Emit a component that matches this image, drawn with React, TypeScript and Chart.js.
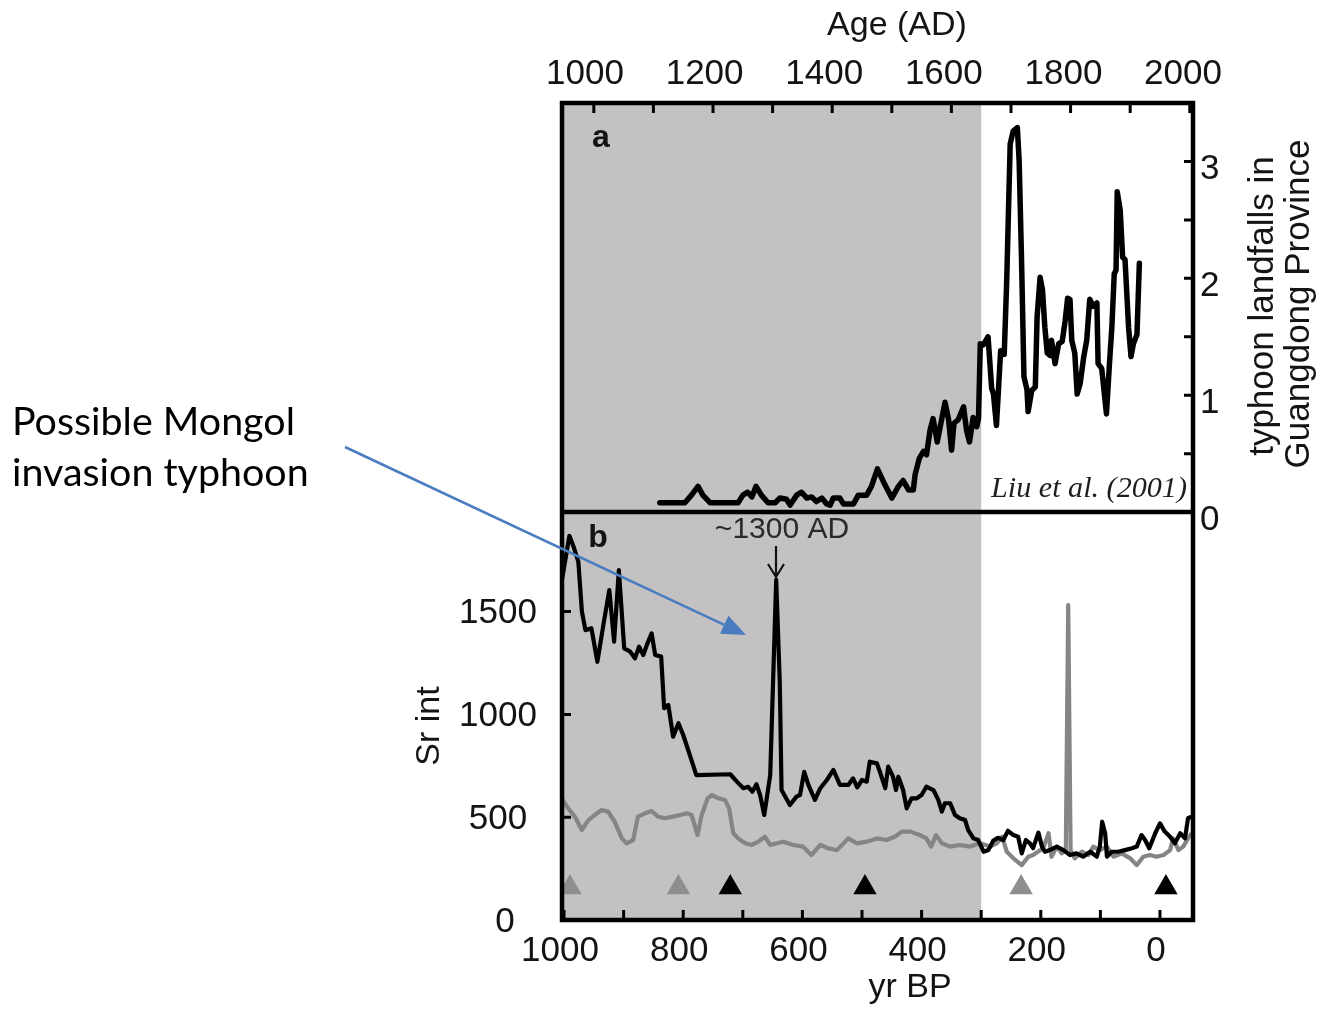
import React, { useEffect, useRef } from 'react';
import { Chart, registerables } from 'chart.js';

Chart.register(...registerables);

// ---------- Panel a: typhoon landfalls in Guangdong (Liu et al. 2001), x in AD ----------
const TY_AD = [1125, 1167, 1178, 1189, 1197, 1209, 1256, 1264, 1272, 1279, 1286, 1295, 1306, 1318, 1326, 1337, 1343, 1354, 1362, 1371, 1379, 1387, 1396, 1404, 1410, 1415, 1426, 1432, 1449, 1457, 1471, 1479, 1489, 1499, 1513, 1524, 1532, 1541, 1549, 1552, 1559, 1566, 1571, 1577, 1582, 1589, 1594, 1602, 1608, 1613, 1617, 1624, 1633, 1638, 1643, 1649, 1655, 1658, 1661, 1666, 1674, 1680, 1683, 1688, 1695, 1701, 1705, 1711, 1716, 1723, 1726, 1730, 1734, 1739, 1741, 1747, 1753, 1756, 1761, 1765, 1769, 1773, 1778, 1780, 1786, 1792, 1798, 1803, 1807, 1811, 1814, 1819, 1823, 1828, 1834, 1839, 1844, 1850, 1856, 1858, 1864, 1872, 1877, 1881, 1885, 1888, 1890, 1895, 1899, 1903, 1909, 1913, 1917, 1923, 1927];
const TY_VAL = [0.08, 0.08, 0.145, 0.22, 0.145, 0.08, 0.08, 0.145, 0.17, 0.13, 0.22, 0.145, 0.08, 0.08, 0.12, 0.11, 0.06, 0.145, 0.17, 0.12, 0.13, 0.09, 0.12, 0.07, 0.06, 0.12, 0.12, 0.07, 0.07, 0.145, 0.145, 0.22, 0.37, 0.26, 0.12, 0.22, 0.27, 0.19, 0.19, 0.32, 0.46, 0.52, 0.49, 0.70, 0.80, 0.60, 0.73, 0.94, 0.79, 0.53, 0.76, 0.79, 0.90, 0.70, 0.60, 0.81, 0.73, 0.80, 1.44, 1.43, 1.50, 1.06, 1.01, 0.74, 1.38, 1.35, 1.95, 3.15, 3.26, 3.29, 3.0, 2.15, 1.16, 1.05, 0.86, 1.04, 1.07, 1.67, 2.01, 1.90, 1.58, 1.36, 1.34, 1.47, 1.27, 1.44, 1.46, 1.64, 1.83, 1.82, 1.47, 1.36, 1.01, 1.10, 1.33, 1.47, 1.82, 1.76, 1.79, 1.27, 1.23, 0.84, 1.27, 1.58, 2.04, 2.07, 2.74, 2.58, 2.18, 2.16, 1.58, 1.33, 1.44, 1.52, 2.13];

// ---------- Panel b: Sr intensity, x in yr BP ----------
const SR_BLACK_BP = [1003, 991, 984, 976, 970, 964, 954, 944, 934, 924, 916, 908, 899, 889, 881, 874, 867, 861, 853, 847, 837, 832, 825, 817, 808, 800, 789, 778, 721, 710, 699, 691, 684, 677, 671, 664, 654, 644, 638, 635, 621, 610, 604, 597, 590, 579, 570, 559, 548, 537, 523, 515, 508, 500, 492, 487, 475, 470, 461, 456, 448, 443, 439, 431, 425, 417, 408, 400, 392, 380, 372, 366, 361, 352, 344, 336, 327, 322, 313, 305, 296, 288, 280, 272, 263, 255, 246, 238, 232, 225, 218, 213, 204, 198, 193, 185, 173, 162, 151, 140, 129, 117, 106, 101, 97, 92, 89, 81, 70, 59, 47, 39, 31, 25, 18, 8, 0, -8, -17, -25, -34, -42, -47, -53];
const SR_BLACK = [1662, 1869, 1816, 1743, 1500, 1410, 1419, 1256, 1435, 1605, 1354, 1702, 1321, 1305, 1273, 1329, 1289, 1338, 1394, 1289, 1281, 1030, 1046, 892, 957, 900, 803, 705, 709, 673, 641, 648, 624, 660, 608, 511, 705, 1654, 1159, 632, 559, 600, 608, 721, 657, 584, 641, 681, 730, 657, 657, 689, 645, 681, 673, 770, 762, 721, 641, 746, 697, 632, 697, 632, 543, 592, 592, 608, 648, 632, 584, 527, 568, 568, 511, 495, 486, 438, 397, 389, 332, 340, 385, 400, 389, 434, 413, 405, 324, 389, 373, 349, 425, 357, 332, 340, 357, 340, 316, 324, 308, 332, 308, 357, 478, 422, 308, 332, 332, 340, 349, 357, 413, 389, 349, 422, 470, 430, 405, 373, 422, 397, 495, 503];

const SR_GRAY_BP = [1004, 993, 982, 970, 959, 948, 937, 926, 915, 903, 895, 884, 876, 864, 853, 842, 831, 817, 805, 794, 786, 776, 769, 759, 752, 741, 730, 723, 716, 708, 696, 685, 674, 663, 654, 643, 632, 615, 599, 585, 570, 557, 542, 523, 509, 492, 475, 459, 445, 433, 419, 403, 392, 384, 376, 366, 352, 336, 319, 302, 285, 274, 265, 257, 246, 232, 221, 213, 196, 187, 182, 173, 165, 158, 154, 150, 143, 131, 120, 112, 101, 89, 78, 64, 50, 39, 28, 17, 6, -6, -17, -22, -31, -39, -47, -53];
const SR_GRAY = [592, 543, 503, 438, 486, 511, 535, 527, 478, 397, 373, 389, 503, 519, 530, 503, 495, 503, 511, 519, 511, 413, 511, 592, 608, 592, 584, 543, 422, 397, 373, 365, 381, 405, 365, 373, 381, 365, 357, 316, 365, 349, 340, 397, 373, 381, 397, 389, 405, 430, 430, 413, 397, 357, 413, 373, 357, 365, 357, 373, 357, 373, 405, 332, 300, 267, 308, 316, 349, 422, 308, 357, 324, 340, 1532, 340, 300, 332, 316, 357, 340, 357, 308, 324, 300, 267, 308, 316, 308, 316, 340, 397, 340, 357, 397, 422];

// dating markers (triangles)
const TRI_BP = [990, 808, 721, 495, 233, -10];
const TRI_KIND = ['gray', 'gray', 'black', 'black', 'gray', 'black'];
const TRI_LEVEL = 158;

// tick labels
const AD_TICKS = [1000, 1200, 1400, 1600, 1800, 2000];
const AD_MINOR = [1000, 1100, 1200, 1300, 1400, 1500, 1600, 1700, 1800, 1900, 2000];
const BP_TICKS = [1000, 800, 600, 400, 200, 0];
const BP_MINOR = [1000, 900, 800, 700, 600, 500, 400, 300, 200, 100, 0];
const SR_TICKS = [0, 500, 1000, 1500];
const TY_TICKS = [0, 1, 2, 3];
const TY_MINOR = [0.5, 1, 1.5, 2, 2.5, 3];
const SHADE_END_BP = 300; // shaded period ends at 300 yr BP (1650 AD)

// axis ranges
const BP_RANGE = [-55.4, 1003.4];
const AD_RANGE = [961.5, 2016.7];
const SR_RANGE = [0, 3974];
const TY_RANGE = [-3.49, 3.5];

const SANS = '"Liberation Sans", Arial, Helvetica, sans-serif';
const INK = '#141414';

function fitSize(ctx: CanvasRenderingContext2D, text: string, fontFn: (s: number) => string, target: number) {
  ctx.font = fontFn(100);
  const w = ctx.measureText(text).width;
  return (100 * target) / w;
}

const figPlugin = {
  id: 'figDecor',
  beforeDatasetsDraw(chart: any) {
    const { ctx, chartArea } = chart;
    const xs = chart.scales.xBP;
    const x1 = xs.getPixelForValue(SHADE_END_BP);
    ctx.save();
    ctx.fillStyle = '#c3c1c2';
    ctx.fillRect(chartArea.left, chartArea.top, x1 - chartArea.left, chartArea.bottom - chartArea.top);
    ctx.restore();
  },
  afterDraw(chart: any) {
    const { ctx, chartArea } = chart;
    const { left, right, top, bottom } = chartArea;
    const xBP = chart.scales.xBP;
    const xTop = chart.scales.xTop;
    const ySr = chart.scales.ySr;
    const yTy = chart.scales.yTy;
    const mid = yTy.getPixelForValue(0);

    ctx.save();
    // frame & divider
    ctx.strokeStyle = '#000';
    ctx.lineWidth = 4.5;
    ctx.strokeRect(left, top, right - left, bottom - top);
    ctx.beginPath();
    ctx.moveTo(left, mid);
    ctx.lineTo(right, mid);
    ctx.stroke();

    // inward ticks
    ctx.lineWidth = 3;
    ctx.beginPath();
    BP_MINOR.forEach((v) => {
      const x = xBP.getPixelForValue(v);
      ctx.moveTo(x, bottom);
      ctx.lineTo(x, bottom - 10);
    });
    AD_MINOR.forEach((v) => {
      const x = xBP.getPixelForValue(1950 - v);
      ctx.moveTo(x, top);
      ctx.lineTo(x, top + 10);
    });
    SR_TICKS.forEach((v) => {
      if (v === 0) return;
      const y = ySr.getPixelForValue(v);
      ctx.moveTo(left, y);
      ctx.lineTo(left + 9, y);
    });
    TY_MINOR.forEach((v) => {
      const y = yTy.getPixelForValue(v);
      ctx.moveTo(right, y);
      ctx.lineTo(right - 9, y);
    });
    ctx.stroke();

    // tick labels
    ctx.fillStyle = INK;
    ctx.font = `35px ${SANS}`;
    ctx.textBaseline = 'middle';
    ctx.textAlign = 'center';
    AD_TICKS.forEach((v) => ctx.fillText(String(v), xTop.getPixelForValue(v), 74));
    BP_TICKS.forEach((v) => ctx.fillText(String(v), xBP.getPixelForValue(v) - 4, 951));
    SR_TICKS.forEach((v) => ctx.fillText(String(v), v === 0 ? 505 : 498, ySr.getPixelForValue(v) + 2));
    ctx.textAlign = 'left';
    TY_TICKS.forEach((v) => ctx.fillText(String(v), 1200, yTy.getPixelForValue(v) + 8));

    // axis titles
    ctx.textAlign = 'center';
    ctx.font = `34px ${SANS}`;
    ctx.fillText('Age (AD)', 897, 26);
    ctx.fillText('yr BP', 910, 988);
    const rot = (t: string, x: number, y: number) => {
      ctx.save();
      ctx.translate(x, y);
      ctx.rotate(-Math.PI / 2);
      ctx.fillText(t, 0, 0);
      ctx.restore();
    };
    rot('Sr int', 430, 726);
    ctx.font = `35px ${SANS}`;
    rot('typhoon landfalls in', 1263, 306);
    rot('Guangdong Province', 1299, 304);

    // panel letters
    ctx.font = `bold 32px ${SANS}`;
    ctx.fillText('a', 601, 138);
    ctx.fillText('b', 598, 538);

    // ~1300 AD annotation
    ctx.font = `30px ${SANS}`;
    ctx.fillStyle = '#2a2a2a';
    ctx.fillText('~1300 AD', 782, 530);
    ctx.strokeStyle = '#111';
    ctx.lineWidth = 2.2;
    ctx.beginPath();
    ctx.moveTo(776, 546);
    ctx.lineTo(776, 576);
    ctx.moveTo(768, 564);
    ctx.lineTo(776, 577);
    ctx.lineTo(784, 564);
    ctx.stroke();

    // Liu et al. (2001)
    const serif = (s: number) => `italic ${s}px "Liberation Serif", "Times New Roman", serif`;
    const ls = fitSize(ctx, 'Liu et al. (2001)', serif, 196);
    ctx.font = serif(ls);
    ctx.fillStyle = '#1e1e1e';
    ctx.fillText('Liu et al. (2001)', 1089, 489);

    // external note + blue arrow
    const cal = (s: number) => `${s}px Lato, "Open Sans", sans-serif`;
    const ms = fitSize(ctx, 'Possible Mongol', cal, 283);
    ctx.font = cal(ms);
    ctx.fillStyle = '#000';
    ctx.textAlign = 'left';
    ctx.fillText('Possible Mongol', 12, 422);
    ctx.fillText('invasion typhoon', 12, 473);

    const x0 = 345, y0 = 447, x1 = 746, y1 = 635;
    const ang = Math.atan2(y1 - y0, x1 - x0);
    const hl = 24, hw = 10;
    const bx = x1 - hl * Math.cos(ang), by = y1 - hl * Math.sin(ang);
    ctx.strokeStyle = '#4a7cc0';
    ctx.fillStyle = '#4a7cc0';
    ctx.lineWidth = 2.5;
    ctx.beginPath();
    ctx.moveTo(x0, y0);
    ctx.lineTo(bx, by);
    ctx.stroke();
    ctx.beginPath();
    ctx.moveTo(x1, y1);
    ctx.lineTo(bx + hw * Math.sin(ang), by - hw * Math.cos(ang));
    ctx.lineTo(bx - hw * Math.sin(ang), by + hw * Math.cos(ang));
    ctx.closePath();
    ctx.fill();
    ctx.restore();
  },
};

export default function App() {
  const ref = useRef<HTMLCanvasElement>(null);
  useEffect(() => {
    const canvas = ref.current;
    if (!canvas) return;
    const chart = new Chart(canvas, {
      type: 'line',
      data: {
        datasets: [
          {
            type: 'scatter',
            data: TRI_BP.map((x) => ({ x, y: TRI_LEVEL })),
            xAxisID: 'xBP',
            yAxisID: 'ySr',
            showLine: false,
            pointStyle: 'triangle',
            pointRadius: 12,
            pointBackgroundColor: TRI_KIND.map((k) => (k === 'gray' ? '#8e8e8e' : '#000000')),
            pointBorderColor: TRI_KIND.map((k) => (k === 'gray' ? '#8e8e8e' : '#000000')),
            pointBorderWidth: 1.5,
            order: 0,
          } as any,
          {
            data: TY_AD.map((x, i) => ({ x, y: TY_VAL[i] })),
            xAxisID: 'xTop',
            yAxisID: 'yTy',
            borderColor: '#000',
            borderWidth: 5.5,
            pointRadius: 0,
            borderJoinStyle: 'round',
            borderCapStyle: 'round',
            tension: 0,
            order: 1,
          },
          {
            data: SR_BLACK_BP.map((x, i) => ({ x, y: SR_BLACK[i] })),
            xAxisID: 'xBP',
            yAxisID: 'ySr',
            borderColor: '#000',
            borderWidth: 4.2,
            pointRadius: 0,
            borderJoinStyle: 'round',
            tension: 0,
            order: 2,
          },
          {
            data: SR_GRAY_BP.map((x, i) => ({ x, y: SR_GRAY[i] })),
            xAxisID: 'xBP',
            yAxisID: 'ySr',
            borderColor: '#858585',
            borderWidth: 4.2,
            pointRadius: 0,
            borderJoinStyle: 'round',
            tension: 0,
            order: 3,
          },
        ],
      },
      options: {
        responsive: false,
        animation: false,
        events: [],
        layout: { padding: 0 },
        plugins: { legend: { display: false }, tooltip: { enabled: false } },
        scales: {
          xTop: {
            type: 'linear',
            position: 'top',
            min: AD_RANGE[0],
            max: AD_RANGE[1],
            grid: { display: false },
            border: { display: false },
            ticks: { display: false },
            afterFit: (s: any) => { s.height = 103; },
          },
          xBP: {
            type: 'linear',
            position: 'bottom',
            reverse: true,
            min: BP_RANGE[0],
            max: BP_RANGE[1],
            grid: { display: false },
            border: { display: false },
            ticks: { display: false },
            afterFit: (s: any) => { s.height = 93; },
          },
          ySr: {
            type: 'linear',
            position: 'left',
            min: SR_RANGE[0],
            max: SR_RANGE[1],
            grid: { display: false },
            border: { display: false },
            ticks: { display: false },
            afterFit: (s: any) => { s.width = 562; },
          },
          yTy: {
            type: 'linear',
            position: 'right',
            min: TY_RANGE[0],
            max: TY_RANGE[1],
            grid: { display: false },
            border: { display: false },
            ticks: { display: false },
            afterFit: (s: any) => { s.width = 127; },
          },
        } as any,
      },
      plugins: [figPlugin],
    });
    return () => chart.destroy();
  }, []);
  return (
    <div style={{ position: 'fixed', left: 0, top: 0, width: 1320, height: 1013, background: '#fff' }}>
      <canvas ref={ref} width={1320} height={1013} style={{ display: 'block', width: 1320, height: 1013 }} />
    </div>
  );
}
